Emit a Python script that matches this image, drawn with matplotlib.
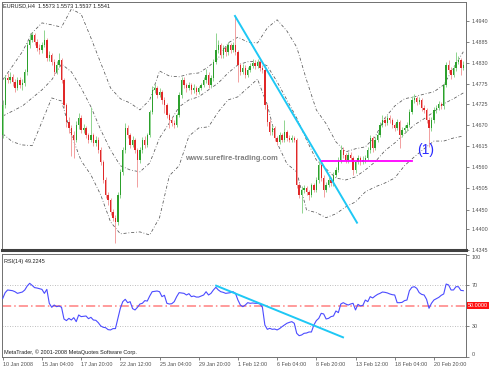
import numpy as np
import matplotlib.pyplot as plt

# EURUSD H4, 10 Jan 2008 12:00 -> 22 Feb 2008 20:00 (189 bars)
close = [1.4722, 1.4792, 1.4787, 1.4795, 1.4782, 1.4766, 1.4787, 1.4774, 1.4779, 1.4808,
         1.4878, 1.4891, 1.4904, 1.4885, 1.4870, 1.4865, 1.4878, 1.4891, 1.4844, 1.4852,
         1.4834, 1.4808, 1.4826, 1.4839, 1.4787, 1.4722, 1.4678, 1.4662, 1.4644, 1.4631,
         1.4670, 1.4688, 1.4657, 1.4662, 1.4644, 1.4631, 1.4644, 1.4623, 1.4631, 1.4605,
         1.4574, 1.4527, 1.4488, 1.4475, 1.4444, 1.4429, 1.4418, 1.4488, 1.4548, 1.4605,
         1.4662, 1.4644, 1.4618, 1.4631, 1.4605, 1.4579, 1.4605, 1.4631, 1.4618, 1.4644,
         1.4704, 1.4761, 1.4766, 1.4748, 1.4756, 1.4735, 1.4722, 1.4696, 1.4683, 1.4675,
         1.4670, 1.4696, 1.4748, 1.4787, 1.4774, 1.4766, 1.4774, 1.4761, 1.4766, 1.4756,
         1.4766, 1.4774, 1.4787, 1.4800, 1.4774, 1.4792, 1.4834, 1.4865, 1.4878, 1.4852,
         1.4870, 1.4859, 1.4878, 1.4865, 1.4878, 1.4859, 1.4826, 1.4808, 1.4818, 1.4800,
         1.4813, 1.4823, 1.4831, 1.4823, 1.4834, 1.4818, 1.4813, 1.4722, 1.4678, 1.4652,
         1.4662, 1.4636, 1.4626, 1.4644, 1.4631, 1.4652, 1.4636, 1.4631, 1.4636, 1.4631,
         1.4514, 1.4488, 1.4501, 1.4506, 1.4496, 1.4488, 1.4514, 1.4501, 1.4527, 1.4566,
         1.4532, 1.4501, 1.4514, 1.4527, 1.4519, 1.4540, 1.4553, 1.4579, 1.4605, 1.4592,
         1.4579, 1.4592, 1.4584, 1.4553, 1.4574, 1.4584, 1.4574, 1.4579, 1.4584, 1.4605,
         1.4636, 1.4610, 1.4631, 1.4644, 1.4670, 1.4683, 1.4675, 1.4688, 1.4683, 1.4670,
         1.4662, 1.4678, 1.4644, 1.4657, 1.4662, 1.4670, 1.4704, 1.4735, 1.4740, 1.4730,
         1.4735, 1.4714, 1.4709, 1.4683, 1.4662, 1.4683, 1.4709, 1.4714, 1.4725, 1.4719,
         1.4774, 1.4826, 1.4813, 1.4800, 1.4818, 1.4834, 1.4839, 1.4818, 1.4826]
high = [1.4735, 1.4800, 1.4805, 1.4808, 1.4802, 1.4790, 1.4795, 1.4795, 1.4790, 1.4815,
        1.4885, 1.4909, 1.4912, 1.4910, 1.4892, 1.4880, 1.4885, 1.4917, 1.4895, 1.4862,
        1.4858, 1.4840, 1.4835, 1.4857, 1.4845, 1.4792, 1.4728, 1.4690, 1.4670, 1.4655,
        1.4680, 1.4700, 1.4695, 1.4672, 1.4668, 1.4650, 1.4716, 1.4650, 1.4640, 1.4638,
        1.4612, 1.4580, 1.4535, 1.4495, 1.4480, 1.4452, 1.4435, 1.4495, 1.4555, 1.4612,
        1.4675, 1.4670, 1.4650, 1.4640, 1.4636, 1.4610, 1.4612, 1.4638, 1.4640, 1.4650,
        1.4710, 1.4770, 1.4775, 1.4772, 1.4765, 1.4760, 1.4742, 1.4728, 1.4700, 1.4690,
        1.4682, 1.4702, 1.4755, 1.4795, 1.4795, 1.4780, 1.4782, 1.4780, 1.4775, 1.4772,
        1.4772, 1.4780, 1.4795, 1.4815, 1.4808, 1.4800, 1.4842, 1.4909, 1.4890, 1.4884,
        1.4878, 1.4876, 1.4885, 1.4883, 1.4885, 1.4950, 1.4865, 1.4832, 1.4828, 1.4825,
        1.4820, 1.4830, 1.4840, 1.4838, 1.4842, 1.4840, 1.4825, 1.4818, 1.4728, 1.4685,
        1.4670, 1.4668, 1.4642, 1.4652, 1.4650, 1.4683, 1.4658, 1.4645, 1.4645, 1.4642,
        1.4636, 1.4520, 1.4510, 1.4515, 1.4512, 1.4502, 1.4520, 1.4520, 1.4535, 1.4575,
        1.4572, 1.4540, 1.4522, 1.4535, 1.4535, 1.4548, 1.4560, 1.4586, 1.4618, 1.4612,
        1.4598, 1.4600, 1.4600, 1.4590, 1.4580, 1.4592, 1.4590, 1.4588, 1.4592, 1.4612,
        1.4645, 1.4642, 1.4638, 1.4652, 1.4678, 1.4695, 1.4690, 1.4696, 1.4695, 1.4688,
        1.4676, 1.4685, 1.4682, 1.4665, 1.4670, 1.4678, 1.4712, 1.4745, 1.4750, 1.4746,
        1.4742, 1.4740, 1.4722, 1.4715, 1.4690, 1.4690, 1.4716, 1.4722, 1.4732, 1.4730,
        1.4780, 1.4834, 1.4838, 1.4820, 1.4826, 1.4859, 1.4850, 1.4845, 1.4835]
low = [1.4635, 1.4715, 1.4778, 1.4780, 1.4770, 1.4755, 1.4760, 1.4765, 1.4760, 1.4772,
       1.4800, 1.4870, 1.4885, 1.4878, 1.4862, 1.4855, 1.4858, 1.4872, 1.4835, 1.4836,
       1.4825, 1.4800, 1.4802, 1.4820, 1.4780, 1.4715, 1.4665, 1.4650, 1.4590, 1.4585,
       1.4625, 1.4660, 1.4650, 1.4648, 1.4635, 1.4622, 1.4625, 1.4615, 1.4615, 1.4598,
       1.4565, 1.4518, 1.4480, 1.4462, 1.4435, 1.4420, 1.4364, 1.4410, 1.4480, 1.4540,
       1.4598, 1.4636, 1.4610, 1.4612, 1.4596, 1.4509, 1.4572, 1.4598, 1.4610, 1.4612,
       1.4638, 1.4698, 1.4752, 1.4740, 1.4742, 1.4725, 1.4701, 1.4688, 1.4662, 1.4668,
       1.4662, 1.4665, 1.4690, 1.4740, 1.4766, 1.4755, 1.4760, 1.4750, 1.4752, 1.4748,
       1.4750, 1.4760, 1.4768, 1.4780, 1.4765, 1.4768, 1.4785, 1.4828, 1.4858, 1.4845,
       1.4845, 1.4850, 1.4852, 1.4858, 1.4860, 1.4852, 1.4782, 1.4800, 1.4802, 1.4792,
       1.4795, 1.4808, 1.4818, 1.4815, 1.4818, 1.4810, 1.4805, 1.4712, 1.4668, 1.4645,
       1.4645, 1.4628, 1.4618, 1.4620, 1.4625, 1.4625, 1.4628, 1.4625, 1.4626, 1.4625,
       1.4505, 1.4480, 1.4442, 1.4494, 1.4488, 1.4475, 1.4482, 1.4495, 1.4495, 1.4520,
       1.4525, 1.4483, 1.4495, 1.4508, 1.4512, 1.4512, 1.4535, 1.4548, 1.4572, 1.4585,
       1.4572, 1.4572, 1.4575, 1.4540, 1.4546, 1.4568, 1.4566, 1.4568, 1.4572, 1.4578,
       1.4598, 1.4600, 1.4604, 1.4625, 1.4638, 1.4664, 1.4668, 1.4670, 1.4675, 1.4662,
       1.4655, 1.4656, 1.4610, 1.4638, 1.4650, 1.4655, 1.4664, 1.4698, 1.4728, 1.4722,
       1.4724, 1.4706, 1.4700, 1.4675, 1.4612, 1.4655, 1.4676, 1.4702, 1.4708, 1.4712,
       1.4712, 1.4768, 1.4805, 1.4790, 1.4795, 1.4810, 1.4828, 1.4800, 1.4812]
first_open = 1.4644

# Bollinger bands read every 4 bars
band_bars = list(range(0, 189, 4))
bb_upper = [1.4787, 1.4823, 1.4860, 1.4909, 1.4935, 1.4930, 1.4924, 1.4971, 1.4958, 1.4896,
            1.4831, 1.4766, 1.4738, 1.4727, 1.4709, 1.4735, 1.4810, 1.4797, 1.4795, 1.4802,
            1.4805, 1.4821, 1.4844, 1.4883, 1.4898, 1.4885, 1.4883, 1.4922, 1.4943, 1.4914,
            1.4872, 1.4787, 1.4709, 1.4673, 1.4626, 1.4600, 1.4608, 1.4613, 1.4639, 1.4688,
            1.4719, 1.4738, 1.4743, 1.4750, 1.4756, 1.4774, 1.4818, 1.4860]
bb_middle = [1.4693, 1.4706, 1.4719, 1.4740, 1.4761, 1.4787, 1.4828, 1.4808, 1.4766, 1.4717,
             1.4657, 1.4605, 1.4564, 1.4553, 1.4548, 1.4571, 1.4636, 1.4675, 1.4717, 1.4735,
             1.4743, 1.4761, 1.4779, 1.4805, 1.4826, 1.4834, 1.4836, 1.4823, 1.4782, 1.4735,
             1.4688, 1.4631, 1.4579, 1.4556, 1.4532, 1.4527, 1.4535, 1.4553, 1.4574, 1.4603,
             1.4623, 1.4647, 1.4670, 1.4686, 1.4704, 1.4725, 1.4738, 1.4753]
bb_lower = [1.4647, 1.4626, 1.4618, 1.4616, 1.4678, 1.4740, 1.4732, 1.4644, 1.4577, 1.4540,
            1.4488, 1.4418, 1.4387, 1.4390, 1.4392, 1.4384, 1.4429, 1.4538, 1.4564, 1.4641,
            1.4662, 1.4665, 1.4704, 1.4735, 1.4743, 1.4766, 1.4789, 1.4722, 1.4623, 1.4569,
            1.4548, 1.4449, 1.4442, 1.4429, 1.4439, 1.4457, 1.4470, 1.4496, 1.4509, 1.4519,
            1.4532, 1.4564, 1.4587, 1.4608, 1.4628, 1.4628, 1.4636, 1.4641]

rsi = [57.2, 62.8, 65.4, 65.0, 64.7, 63.7, 62.1, 62.8, 63.4, 65.4,
       69.3, 71.9, 69.9, 67.7, 67.3, 66.7, 66.0, 62.1, 66.0, 52.4,
       48.5, 50.7, 49.1, 49.8, 48.5, 37.1, 35.5, 37.7, 36.1, 38.4,
       34.5, 41.0, 39.4, 39.7, 40.0, 37.4, 38.7, 36.1, 35.8, 33.5,
       30.3, 29.0, 28.6, 26.7, 26.4, 27.7, 27.7, 37.7, 47.5, 54.0,
       56.3, 53.0, 54.0, 47.2, 45.9, 48.5, 51.7, 52.4, 55.0, 54.6,
       59.5, 63.7, 64.1, 64.4, 63.7, 58.9, 60.2, 52.4, 51.7, 52.0,
       54.0, 58.9, 62.8, 62.5, 62.1, 60.5, 61.8, 58.9, 59.5, 58.5,
       58.5, 59.5, 60.5, 63.7, 60.5, 62.1, 65.4, 68.0, 65.4, 63.7,
       63.1, 62.1, 62.5, 62.8, 63.7, 62.1, 55.6, 50.7, 49.1, 50.7,
       53.0, 52.4, 52.7, 52.4, 52.4, 51.7, 48.5, 31.2, 27.0, 28.0,
       27.0, 27.3, 26.4, 27.7, 29.6, 31.2, 32.9, 33.8, 34.5, 32.9,
       23.1, 20.8, 21.5, 23.1, 23.4, 24.4, 24.4, 31.2, 35.5, 37.7,
       42.6, 42.0, 37.1, 37.7, 39.4, 40.0, 44.9, 43.3, 51.7, 53.0,
       51.7, 50.7, 51.7, 52.4, 45.9, 51.4, 49.8, 50.4, 55.6, 54.0,
       58.9, 57.6, 59.5, 61.1, 62.1, 63.4, 63.1, 62.5, 61.5, 60.8,
       60.5, 53.0, 53.0, 53.3, 55.0, 55.6, 64.7, 68.0, 68.6, 67.0,
       62.8, 61.1, 60.5, 56.3, 47.5, 52.4, 55.6, 56.9, 58.2, 60.2,
       61.5, 71.2, 70.3, 65.4, 65.4, 68.6, 68.6, 65.0, 64.7]

price_ticks = [1.4940, 1.4885, 1.4830, 1.4775, 1.4725, 1.4670,
               1.4615, 1.4560, 1.4505, 1.4450, 1.4400, 1.4345]
date_bars = list(range(0, 177, 16))
date_labels = ['10 Jan 2008', '15 Jan 04:00', '17 Jan 20:00', '22 Jan 12:00',
               '25 Jan 04:00', '29 Jan 20:00', '1 Feb 12:00', '6 Feb 04:00',
               '8 Feb 20:00', '13 Feb 12:00', '18 Feb 04:00', '20 Feb 20:00']

# hand drawn objects (bar index, value)
trend_bars = [94.8, 144.6]
trend_prices = [1.4953, 1.4416]
hline_bars = [130.3, 167.1]
hline_price = 1.4577
rsi_trend_bars = [87.1, 138.9]
rsi_trend_vals = [69.6, 19.2]

plt.rcParams['font.family'] = ['Liberation Sans', 'DejaVu Sans']
W, H = 490, 368
fig = plt.figure(figsize=(W / 100, H / 100), dpi=100)
ax = fig.add_axes([2 / W, 1 - 250 / H, 464 / W, 248 / H])
ax2 = fig.add_axes([2 / W, 1 - 357 / H, 464 / W, 103 / H], sharex=ax)

n = len(close)
idx = np.arange(n)
c = np.array(close)
o = np.array([first_open] + close[:-1])
up = c >= o
body_lo = np.minimum(o, c)
body_h = np.maximum(np.abs(c - o), 0.00015)

wick_col = np.where(up, '#8fd48f', '#f2a0a0')
ax.vlines(idx, low, high, colors=wick_col, lw=0.7, zorder=2)
ax.bar(idx, body_h, bottom=body_lo, width=0.55,
       color=np.where(up, '#2ca02c', '#e02828'), linewidth=0, zorder=3)

band_style = dict(color='#555555', lw=0.55, ls=(0, (4, 2.5, 1, 2.5)), zorder=1)
ax.plot(band_bars, bb_upper, **band_style)
ax.plot(band_bars, bb_middle, **band_style)
ax.plot(band_bars, bb_lower, **band_style)

ax.plot(trend_bars, trend_prices, color='#1ec8f5', lw=1.4, zorder=4)
ax.plot(hline_bars, [hline_price, hline_price], color='#ff00ff', lw=1.3, zorder=4)
ax.text(172.8, 1.4606, '(1)', color='#2a2aff', fontsize=10, ha='center', va='center')
ax.text(74.4, 1.4584, 'www.surefire-trading.com', color='#808080', fontsize=5.4,
        fontweight='bold', ha='left', va='center')
ax.text(0.002, 0.995, 'EURUSD,H4  1.5573 1.5573 1.5537 1.5541', transform=ax.transAxes,
        fontsize=4, va='top', ha='left', color='#202020')

ax.set_xlim(-0.3, 189.1)
ax.set_ylim(1.43455, 1.49893)
ax.yaxis.tick_right()
ax.set_yticks(price_ticks)
ax.set_yticklabels(['%.4f' % p for p in price_ticks])
ax.tick_params(axis='y', labelsize=3.9, length=2.5, width=0.5, colors='#505050', pad=1.5)
ax.tick_params(axis='x', bottom=False, labelbottom=False)
for s in ax.spines.values():
    s.set_color('#707070')
    s.set_linewidth(0.7)
ax.spines['bottom'].set_color('#404040')
ax.spines['bottom'].set_linewidth(2.2)

# RSI window
ax2.plot(idx, rsi, color='#4b4bff', lw=0.8, zorder=3)
ax2.axhline(70, color='#a8a8a8', ls=(0, (1, 2)), lw=0.6)
ax2.axhline(30, color='#a8a8a8', ls=(0, (1, 2)), lw=0.6)
ax2.axhline(50, color='#ff8080', ls=(0, (6, 2, 1, 2)), lw=1.1)
ax2.plot(rsi_trend_bars, rsi_trend_vals, color='#1ec8f5', lw=1.4, zorder=4)
ax2.set_ylim(0, 100.5)
ax2.yaxis.tick_right()
ax2.set_yticks([0, 30, 70, 100])
ax2.set_yticklabels(['0', '30', '70', '100'])
ax2.tick_params(axis='y', labelsize=3.9, length=2.5, width=0.5, colors='#505050', pad=1.5)
ylabels = ax2.get_yticklabels()
ylabels[0].set_va('bottom')
ylabels[-1].set_va('top')
ax2.text(1.004, 50, '50.0000', transform=ax2.get_yaxis_transform(), fontsize=3.9,
         color='white', va='center', ha='left',
         bbox=dict(boxstyle='square,pad=0.15', fc='#ff1010', ec='none'))
ax2.set_xticks(date_bars)
ax2.set_xticklabels(date_labels, ha='left')
ax2.tick_params(axis='x', labelsize=3.9, length=2.5, width=0.5, colors='#505050', pad=1)
ax2.text(0.004, 0.93, 'RSI(14) 49.2245', transform=ax2.transAxes, fontsize=4,
         va='center', ha='left', color='#202020')
ax2.text(0.004, 0.05, 'MetaTrader, \u00a9 2001-2008 MetaQuotes Software Corp.',
         transform=ax2.transAxes, fontsize=4, va='center', ha='left', color='#202020')
for s in ax2.spines.values():
    s.set_color('#707070')
    s.set_linewidth(0.7)

plt.savefig('out.png', dpi=100)
